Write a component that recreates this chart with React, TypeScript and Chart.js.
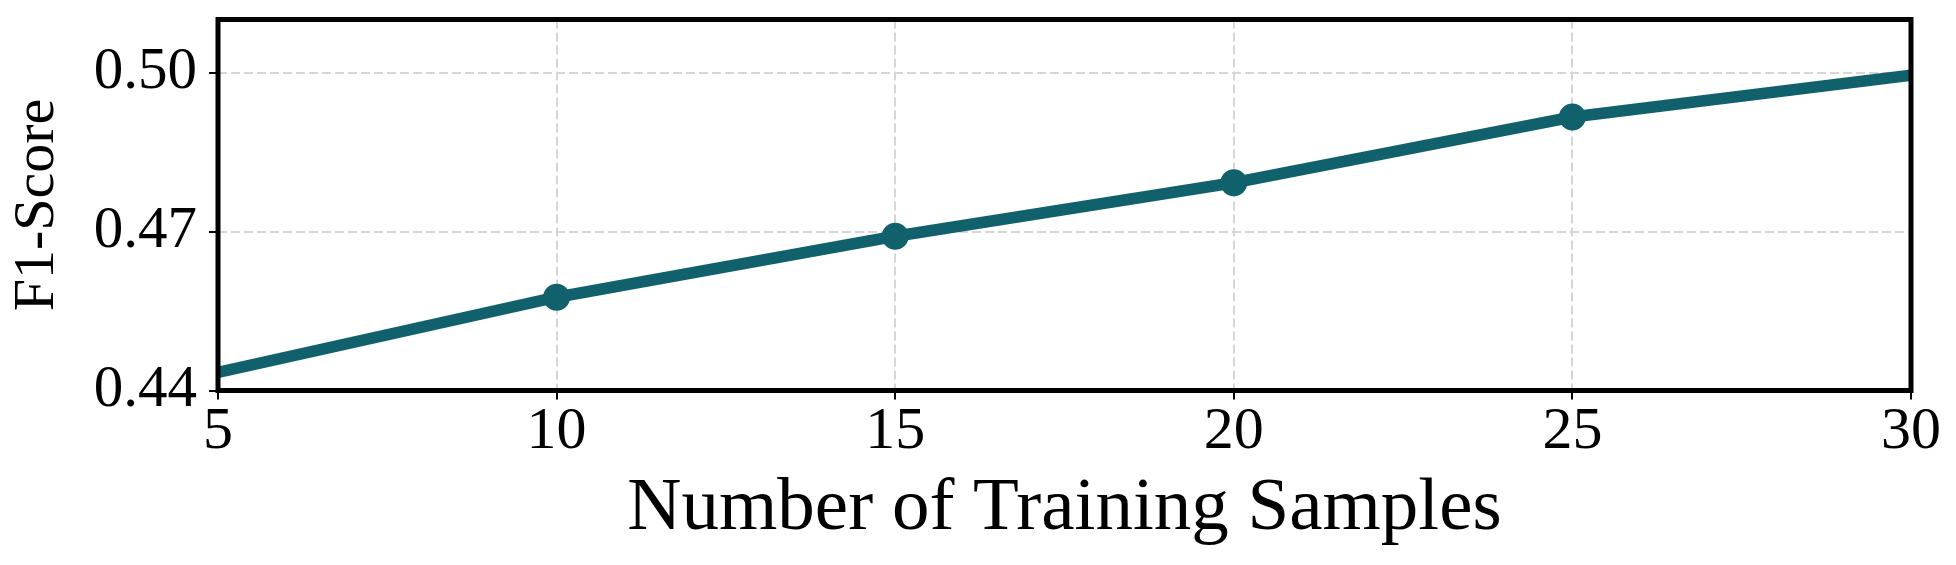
import React, { useEffect, useRef } from "react";
import { Chart, registerables } from "chart.js";

Chart.register(...registerables);

const xValues = [5, 10, 15, 20, 25, 30];
const f1Scores = [0.4434, 0.4576, 0.4691, 0.4792, 0.4916, 0.4995];
const markerShown = [false, true, true, true, true, false];
const xTicks = [5, 10, 15, 20, 25, 30];
const yTicks = [0.44, 0.47, 0.5];
const yTickLabels = ["0.44", "0.47", "0.50"];
const xTitle = "Number of Training Samples";
const yTitle = "F1-Score";

const FONT = "'Liberation Serif', 'Times New Roman', serif";
const LINE_COLOR = "#10616b";

const frame = {
  id: "frame",
  afterDatasetsDraw(chart: any) {
    const { ctx, chartArea } = chart;
    ctx.save();
    ctx.strokeStyle = "#000";
    ctx.lineWidth = 5;
    ctx.strokeRect(
      chartArea.left,
      chartArea.top,
      chartArea.right - chartArea.left,
      chartArea.bottom - chartArea.top
    );
    ctx.restore();
  },
};

const gridOpts = {
  color: "#d6d6d6",
  lineWidth: 2,
  drawTicks: true,
  tickLength: 9,
  tickColor: "#000",
  tickWidth: 2,
  tickBorderDash: [],
};

export default function App() {
  const ref = useRef<HTMLCanvasElement | null>(null);

  useEffect(() => {
    document.body.style.margin = "0";
    const canvas = ref.current;
    if (!canvas) return;
    const chart = new Chart(canvas, {
      type: "line",
      data: {
        datasets: [
          {
            label: yTitle,
            data: xValues.map((x, i) => ({ x, y: f1Scores[i] })),
            borderColor: LINE_COLOR,
            backgroundColor: LINE_COLOR,
            borderWidth: 11.5,
            pointRadius: markerShown.map((m) => (m ? 13.5 : 0)),
            pointBorderWidth: 0,
            pointBackgroundColor: LINE_COLOR,
            tension: 0,
            fill: false,
          },
        ],
      },
      options: {
        animation: false,
        responsive: false,
        devicePixelRatio: 1,
        layout: { padding: { left: 0, top: 19.5, right: 45, bottom: 0 } },
        plugins: {
          legend: { display: false },
          tooltip: { enabled: false },
        },
        scales: {
          x: {
            type: "linear",
            min: 5,
            max: 30,
            afterBuildTicks: (scale: any) => {
              scale.ticks = xTicks.map((v) => ({ value: v }));
            },
            afterFit: (scale: any) => {
              scale.height = 174.5;
              scale.paddingLeft = 0;
              scale.paddingRight = 0;
            },
            border: { display: false, dash: [9, 4] },
            grid: gridOpts,
            ticks: {
              padding: -3,
              color: "#000",
              font: { family: FONT, size: 60 },
              maxRotation: 0,
              autoSkip: false,
              callback: (v: any) => String(v),
            },
            title: {
              display: true,
              text: xTitle,
              color: "#000",
              font: { family: FONT, size: 75, lineHeight: 1.2 },
              padding: { top: 0, bottom: 11 },
            },
          },
          y: {
            type: "linear",
            min: 0.44,
            max: 0.51,
            afterBuildTicks: (scale: any) => {
              scale.ticks = yTicks.map((v) => ({ value: v }));
            },
            afterFit: (scale: any) => {
              scale.width = 218;
              scale.paddingTop = 0;
              scale.paddingBottom = 0;
            },
            border: { display: false, dash: [9, 4] },
            grid: gridOpts,
            ticks: {
              padding: 12,
              color: "#000",
              font: { family: FONT, size: 59 },
              autoSkip: false,
              callback: (v: any) => {
                const i = yTicks.findIndex((t) => Math.abs(t - Number(v)) < 1e-9);
                return i >= 0 ? yTickLabels[i] : "";
              },
            },
            title: {
              display: true,
              text: yTitle,
              color: "#000",
              font: { family: FONT, size: 58, lineHeight: 1.2 },
              padding: { top: 2.5, bottom: 0 },
            },
          },
        },
      },
      plugins: [frame],
    });
    return () => chart.destroy();
  }, []);

  return (
    <div style={{ position: "absolute", left: 0, top: 0, width: 1956, height: 565, background: "#fff" }}>
      <canvas ref={ref} width={1956} height={565} style={{ width: 1956, height: 565, display: "block" }} />
    </div>
  );
}
